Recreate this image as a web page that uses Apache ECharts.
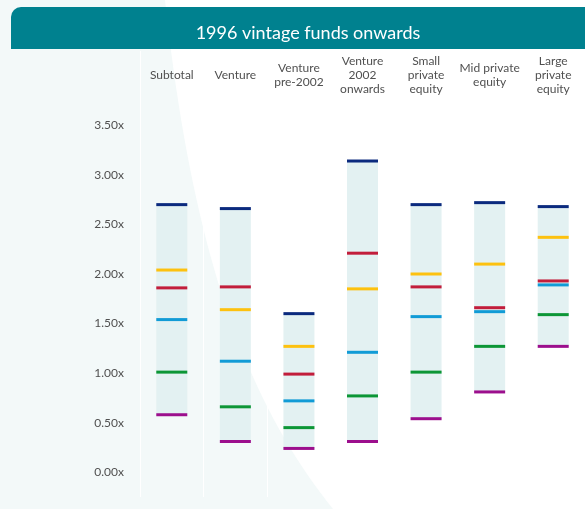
<!DOCTYPE html>
<html>
<head>
<meta charset="utf-8">
<script src="https://cdn.jsdelivr.net/npm/echarts@6/dist/echarts.min.js"></script>
<style>
html,body{margin:0;padding:0;background:#ffffff;}
#c{width:585px;height:509px;}
</style>
</head>
<body>
<div id="c"></div>
<script>
const categories = ['Subtotal', 'Venture', 'Venture\npre-2002', 'Venture\n2002\nonwards', 'Small\nprivate\nequity', 'Mid private\nequity', 'Large\nprivate\nequity'];
const navy   = [2.70, 2.66, 1.60, 3.14, 2.70, 2.72, 2.68];
const yellow = [2.04, 1.64, 1.27, 1.85, 2.00, 2.10, 2.37];
const red    = [1.86, 1.87, 0.99, 2.21, 1.87, 1.66, 1.93];
const blue   = [1.54, 1.12, 0.72, 1.21, 1.57, 1.62, 1.89];
const green  = [1.01, 0.66, 0.45, 0.77, 1.01, 1.27, 1.59];
const purple = [0.58, 0.31, 0.24, 0.31, 0.54, 0.81, 1.27];
const yTicks = [0, 0.5, 1, 1.5, 2, 2.5, 3, 3.5];
const title = '1996 vintage funds onwards';

const chart = echarts.init(document.getElementById('c'), null, {renderer: 'canvas'});
const FONT = 'Lato';
const lineSeries = [
  {name: 'navy', data: navy, color: '#0b2a7e'},
  {name: 'yellow', data: yellow, color: '#fdc10f'},
  {name: 'red', data: red, color: '#c21d3b'},
  {name: 'blue', data: blue, color: '#119bd6'},
  {name: 'green', data: green, color: '#0c9636'},
  {name: 'purple', data: purple, color: '#9c0f8d'}
];
const base = purple.slice();
const span = navy.map((v, i) => +(v - purple[i]).toFixed(4));

// decorative curved background shape (sampled cubic bezier)
const bg = [[0, 0]];
const P = [[165, 0], [192, 250], [245, 400], [333, 509]];
for (let k = 0; k <= 40; k++) {
  const t = k / 40, u = 1 - t;
  bg.push([
    u*u*u*P[0][0] + 3*u*u*t*P[1][0] + 3*u*t*t*P[2][0] + t*t*t*P[3][0],
    u*u*u*P[0][1] + 3*u*u*t*P[1][1] + 3*u*t*t*P[2][1] + t*t*t*P[3][1]
  ]);
}
bg.push([0, 509]);

chart.setOption({
  backgroundColor: '#ffffff',
  animation: false,
  graphic: [
    {type: 'polygon', z: -10, silent: true, shape: {points: bg}, style: {fill: '#f3f9f9'}},
    {type: 'rect', z: -5, silent: true,
     shape: {x: 11, y: 7, width: 600, height: 42, r: [10, 0, 0, 0]},
     style: {fill: '#00818f'}}
  ],
  title: {
    text: title, left: 303, top: 19, textAlign: 'center',
    textStyle: {color: '#ffffff', fontSize: 18, fontWeight: 'normal', fontFamily: FONT}
  },
  grid: {left: 140, width: 456, top: 51, bottom: 12, containLabel: false},
  xAxis: {
    type: 'category', data: categories, position: 'top',
    axisLine: {show: false}, axisTick: {show: false},
    axisLabel: {inside: true, margin: 24, verticalAlign: 'middle', color: '#505050', fontSize: 12, lineHeight: 14, fontFamily: FONT, interval: 0},
    splitLine: {show: true, interval: 0, lineStyle: {color: '#ffffff', width: 1}}
  },
  yAxis: {
    type: 'value', min: -0.25, max: 4.25, interval: 0.25,
    axisLine: {show: false}, axisTick: {show: false}, splitLine: {show: false},
    axisLabel: {
      margin: 16, color: '#505050', fontSize: 12, fontFamily: FONT,
      formatter: function (v) {
        for (const t of yTicks) { if (Math.abs(v - t) < 1e-6) return t.toFixed(2) + 'x'; }
        return '';
      }
    }
  },
  series: [
    {type: 'bar', stack: 'r', data: base, barWidth: 31, itemStyle: {color: 'transparent'}, silent: true},
    {type: 'bar', stack: 'r', data: span, barWidth: 31, itemStyle: {color: '#e3f1f2'}, silent: true}
  ].concat(lineSeries.map(s => ({
    type: 'scatter', name: s.name, data: s.data, symbol: 'rect', symbolSize: [31, 3],
    itemStyle: {color: s.color, opacity: 1}, z: 5
  })))
});
</script>
</body>
</html>
